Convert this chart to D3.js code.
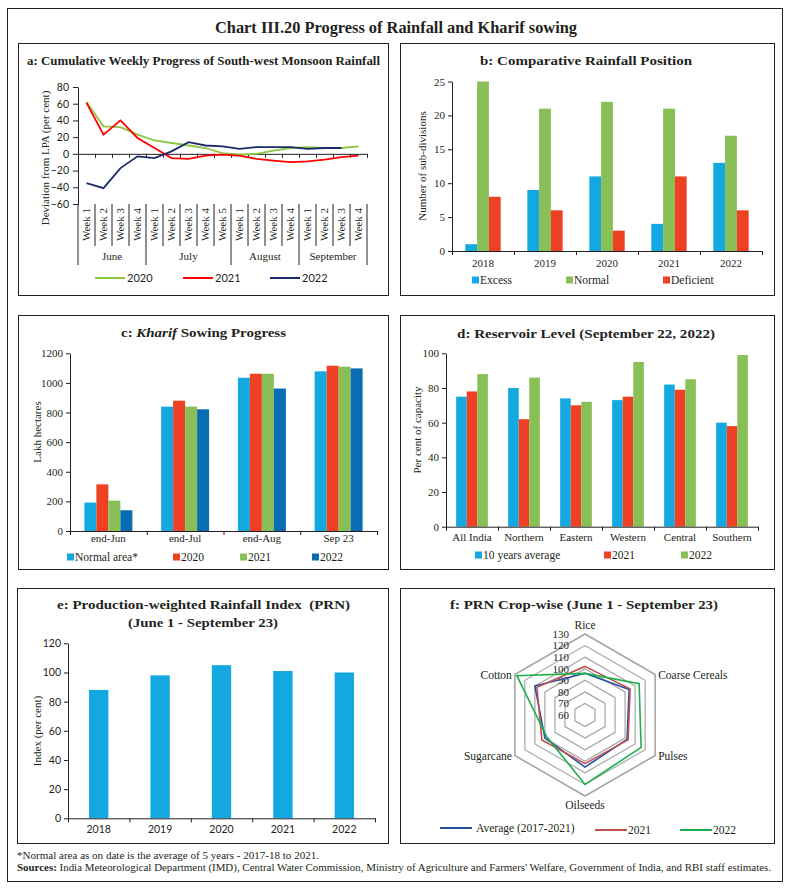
<!DOCTYPE html>
<html>
<head>
<meta charset="utf-8">
<script src="https://cdn.jsdelivr.net/npm/d3@7"></script>
<style>
  body { margin: 0; background: #fff; }
  svg text { font-family: "Liberation Serif", serif; fill: #231f20; }
  .sans { font-family: Lato, "Liberation Sans", sans-serif; }
</style>
</head>
<body>
<div id="chart"></div>
<script>
// ---- data ----
const weekLabels = ["Week 1","Week 2","Week 3","Week 4","Week 1","Week 2","Week 3","Week 4","Week 5",
  "Week 1","Week 2","Week 3","Week 4","Week 1","Week 2","Week 3","Week 4"];
const months = ["June","July","August","September"];
const monthWeeks = [4,5,4,4];
const rain2020 = [62,33,32,23,16,13,10,7,1,-1,0,4,7,8,7,7,9];
const rain2021 = [61,23,40,19,7,-5,-6,-2,-1,-2,-6,-8,-10,-9,-7,-4,-2];
const rain2022 = [-35,-41,-17,-3,-5,3,14,10,9,6,8,8,8,6,7,7,null];

const years = ["2018","2019","2020","2021","2022"];
const excess = [1,9,11,4,13];
const normal = [25,21,22,21,17];
const deficient = [8,6,3,11,6];

const sowPeriods = ["end-Jun","end-Jul","end-Aug","Sep 23"];
const sowNormal = [192,840,1035,1078];
const sow2020 = [315,880,1062,1116];
const sow2021 = [205,840,1062,1110];
const sow2022 = [140,822,962,1098];

const regions = ["All India","Northern","Eastern","Western","Central","Southern"];
const res10yr = [75,80,74,73,82,60];
const res2021 = [78,62,70,75,79,58];
const res2022 = [88,86,72,95,85,99];

const prnYears = ["2018","2019","2020","2021","2022"];
const prnIndex = [88,98,105,101,100];

const crops = ["Rice","Coarse Cereals","Pulses","Oilseeds","Sugarcane","Cotton"];
const cropAvg = [96,104,102,105,100,110];
const crop2021 = [102,105,103,102,103,108];
const crop2022 = [96,114,116,120,98,128];
const radarTicks = [60,70,80,90,100,110,120,130];

// ---- colours ----
const cBlue = "#14a8e0", cGreen = "#88c057", cRed = "#ee4124", cDark = "#0a6db4";
const ink = "#231f20";

const W = 790, H = 891;
const svg = d3.select("#chart").append("svg").attr("width", W).attr("height", H);

// outer frame + main title
svg.append("rect").attr("x", 7.5).attr("y", 8.5).attr("width", 775).attr("height", 873)
  .attr("fill", "none").attr("stroke", ink);
svg.append("text").attr("x", 396).attr("y", 33).attr("text-anchor", "middle")
  .attr("font-size", 16.5).attr("font-weight", "bold")
  .attr("textLength", 362).attr("lengthAdjust", "spacingAndGlyphs")
  .text("Chart III.20 Progress of Rainfall and Kharif sowing");

// panel frames
const frames = [[18,43,370,252],[400,43,374,252],[18,315,370,254],[400,315,374,254],[17,588,371,255],[400,588,374,255]];
frames.forEach(f => svg.append("rect").attr("x", f[0]+0.5).attr("y", f[1]+0.5)
  .attr("width", f[2]).attr("height", f[3]).attr("fill", "none").attr("stroke", ink));

function title(x, y, len, txt, italicPart) {
  const t = svg.append("text").attr("x", x).attr("y", y).attr("text-anchor", "middle")
    .attr("font-size", 13.5).attr("font-weight", "bold").attr("xml:space", "preserve")
    .attr("textLength", len).attr("lengthAdjust", "spacingAndGlyphs");
  if (italicPart) {
    t.append("tspan").text(txt[0]);
    t.append("tspan").attr("font-style", "italic").text(italicPart);
    t.append("tspan").text(txt[1]);
  } else t.text(txt);
}

function yTitle(x, y, txt) {
  svg.append("text").attr("transform", `translate(${x},${y}) rotate(-90)`)
    .attr("text-anchor", "middle").attr("dy", "0.35em").attr("font-size", 11).text(txt);
}

function styleAxis(g, size, sans) {
  g.attr("font-family", null).attr("font-size", size);
  g.selectAll("path, line").attr("stroke", ink);
  if (sans) g.selectAll("text").attr("class", "sans");
}

// ---- a: weekly rainfall ----
title(203.5, 65, 353, "a: Cumulative Weekly Progress of South-west Monsoon Rainfall");
const ax = d3.scaleLinear().domain([0, weekLabels.length]).range([78, 367]);
const ay = d3.scaleLinear().domain([-60, 80]).range([204, 87]);

svg.append("g").attr("transform", "translate(78,0)")
  .call(d3.axisLeft(ay).tickValues(d3.range(-60, 81, 20)).tickSize(5).tickSizeOuter(0).tickPadding(4))
  .call(g => styleAxis(g, 10.5, true));
svg.append("g").attr("transform", `translate(0,${ay(0)})`)
  .call(d3.axisBottom(ax).tickValues(d3.range(0, weekLabels.length + 1)).tickFormat("").tickSize(4).tickSizeOuter(0))
  .call(g => styleAxis(g, 10, false));

// category separators below the plot
const monthEdges = [0];
monthWeeks.forEach(n => monthEdges.push(monthEdges[monthEdges.length - 1] + n));
svg.append("g").selectAll("line").data(d3.range(0, weekLabels.length + 1)).join("line")
  .attr("x1", d => ax(d)).attr("x2", d => ax(d)).attr("y1", ay(-60))
  .attr("y2", d => monthEdges.includes(d) ? 265 : 246)
  .attr("stroke", ink);
svg.append("g").selectAll("text").data(weekLabels).join("text")
  .attr("transform", (d, i) => `translate(${ax(i + 0.5)},208) rotate(-90)`)
  .attr("text-anchor", "end").attr("dy", "0.35em").attr("font-size", 11).text(d => d);
svg.append("g").selectAll("text").data(months).join("text")
  .attr("x", (d, i) => (ax(monthEdges[i]) + ax(monthEdges[i + 1])) / 2).attr("y", 260)
  .attr("text-anchor", "middle").attr("font-size", 11).text(d => d);
yTitle(45, 158, "Deviation from LPA (per cent)");

const rainLine = d3.line().defined(d => d != null).x((d, i) => ax(i + 0.5)).y(d => ay(d));
const rainSeries = [{name: "2020", values: rain2020, color: "#8dc63f"},
                    {name: "2021", values: rain2021, color: "#ff0000"},
                    {name: "2022", values: rain2022, color: "#1b2a6b"}];
rainSeries.forEach(s => svg.append("path").datum(s.values).attr("d", rainLine)
  .attr("fill", "none").attr("stroke", s.color).attr("stroke-width", 1.8));
const aLegX = [95, 183, 270];
rainSeries.forEach((s, i) => {
  svg.append("line").attr("x1", aLegX[i]).attr("x2", aLegX[i] + 30).attr("y1", 278).attr("y2", 278)
    .attr("stroke", s.color).attr("stroke-width", 2);
  svg.append("text").attr("class", "sans").attr("x", aLegX[i] + 32).attr("y", 278).attr("dy", "0.35em")
    .attr("font-size", 11).text(s.name);
});

// ---- grouped bar helper ----
function groupedBars(o) {
  const x0 = d3.scaleBand().domain(o.cats).range([o.left, o.right]).paddingInner(o.pad).paddingOuter(o.pad / 2);
  const x1 = d3.scaleBand().domain(o.series.map(s => s.name)).range([0, x0.bandwidth()]);
  const y = d3.scaleLinear().domain(o.yDomain).range([o.bottom, o.top]);

  o.series.forEach(s => {
    svg.append("g").selectAll("rect").data(o.cats).join("rect")
      .attr("x", c => x0(c) + x1(s.name))
      .attr("y", (c, i) => y(s.values[i]))
      .attr("width", x1.bandwidth())
      .attr("height", (c, i) => y(0) - y(s.values[i]))
      .attr("fill", s.color);
  });

  svg.append("g").attr("transform", `translate(${o.left},0)`)
    .call(d3.axisLeft(y).tickValues(o.yTicks).tickFormat(d3.format("d")).tickSize(4).tickSizeOuter(0).tickPadding(3))
    .call(g => styleAxis(g, o.tickSize || 11, o.sans));
  const xb = d3.scaleLinear().domain([0, o.cats.length]).range([o.left, o.right]);
  svg.append("g").attr("transform", `translate(0,${y(0)})`)
    .call(d3.axisBottom(xb).tickValues(d3.range(0, o.cats.length + 1)).tickFormat("").tickSize(4).tickSizeOuter(0))
    .call(g => styleAxis(g, 11, false));
  svg.append("g").selectAll("text").data(o.cats).join("text")
    .attr("class", o.sans ? "sans" : null)
    .attr("x", c => x0(c) + x0.bandwidth() / 2).attr("y", o.labelY)
    .attr("text-anchor", "middle").attr("font-size", o.tickSize || 11).text(c => c);

  if (o.legendX) {
    o.series.forEach((s, i) => {
      svg.append("rect").attr("x", o.legendX[i]).attr("y", o.legendY - 3.5).attr("width", 7).attr("height", 7)
        .attr("fill", s.color);
      svg.append("text").attr("x", o.legendX[i] + 8).attr("y", o.legendY).attr("dy", "0.35em")
        .attr("font-size", 11.5).text(s.name);
    });
  }
}

// ---- b: comparative rainfall ----
title(586, 65, 212, "b: Comparative Rainfall Position");
groupedBars({
  cats: years, left: 452, right: 762, top: 81.5, bottom: 251, pad: 0.43,
  yDomain: [0, 25], yTicks: d3.range(0, 26, 5), labelY: 267,
  series: [{name: "Excess", values: excess, color: cBlue},
           {name: "Normal", values: normal, color: cGreen},
           {name: "Deficient", values: deficient, color: cRed}],
  legendX: [472, 566, 663], legendY: 280
});
yTitle(422, 166, "Number of sub-divisions");

// ---- c: kharif sowing ----
title(203.5, 337, 165, ["c: ", " Sowing Progress"], "Kharif");
groupedBars({
  cats: sowPeriods, left: 70, right: 377, top: 353.3, bottom: 531, pad: 0.375,
  yDomain: [0, 1200], yTicks: d3.range(0, 1201, 200), labelY: 542,
  series: [{name: "Normal area*", values: sowNormal, color: cBlue},
           {name: "2020", values: sow2020, color: cRed},
           {name: "2021", values: sow2021, color: cGreen},
           {name: "2022", values: sow2022, color: cDark}],
  legendX: [67, 173, 240, 312], legendY: 557
});
yTitle(37, 432, "Lakh hectares");

// ---- d: reservoir ----
title(586, 338, 258, "d: Reservoir Level (September 22, 2022)");
groupedBars({
  cats: regions, left: 446, right: 758, top: 353.3, bottom: 526.7, pad: 0.39,
  yDomain: [0, 100], yTicks: d3.range(0, 101, 20), labelY: 541,
  series: [{name: "10 years average", values: res10yr, color: cBlue},
           {name: "2021", values: res2021, color: cRed},
           {name: "2022", values: res2022, color: cGreen}],
  legendX: [475, 604, 681], legendY: 555
});
yTitle(417, 430, "Per cent of capacity");

// ---- e: PRN index ----
title(203.5, 609, 293, "e: Production-weighted Rainfall Index\u00a0 (PRN)");
title(203, 627, 150, "(June 1 - September 23)");
groupedBars({
  cats: prnYears, left: 68, right: 375, top: 643.3, bottom: 818.3, pad: 0.685,
  yDomain: [0, 120], yTicks: d3.range(0, 121, 20), labelY: 833, sans: true, tickSize: 10.5,
  series: [{name: "PRN", values: prnIndex, color: cBlue}]
});
yTitle(37, 731, "Index (per cent)");

// ---- f: radar ----
title(584, 609, 268, "f: PRN Crop-wise (June 1 - September 23)");
const cx = 585, cy = 715;
const rr = d3.scaleLinear().domain([60, 130]).range([0, 81]);
const step = 2 * Math.PI / crops.length;
const radar = d3.lineRadial().angle((d, i) => i * step).radius(d => rr(d)).curve(d3.curveLinearClosed);
const fg = svg.append("g").attr("transform", `translate(${cx},${cy})`);
fg.selectAll("path.ring").data(radarTicks.slice(1)).join("path").attr("class", "ring")
  .attr("d", v => radar(crops.map(() => v)))
  .attr("fill", "none").attr("stroke", "#a6a6a6").attr("stroke-width", v => v === 130 ? 1.6 : 1.2);
fg.selectAll("text.tick").data(radarTicks).join("text").attr("class", "tick")
  .attr("x", -16).attr("y", v => -rr(v)).attr("dy", "0.35em").attr("text-anchor", "end")
  .attr("font-size", 11).text(v => v);
const cropSeries = [{name: "Average (2017-2021)", values: cropAvg, color: "#2350a0"},
                    {name: "2021", values: crop2021, color: "#c0504d"},
                    {name: "2022", values: crop2022, color: "#1db04b"}];
cropSeries.forEach(s => fg.append("path").attr("d", radar(s.values))
  .attr("fill", "none").attr("stroke", s.color).attr("stroke-width", 1.6));
const rOut = rr(130);
fg.selectAll("text.cat").data(crops).join("text").attr("class", "cat")
  .attr("x", (d, i) => {
    const a = i * step - Math.PI / 2, px = rOut * Math.cos(a);
    return Math.abs(px) < 1 ? 0 : px + (px > 0 ? 3 : -3);
  })
  .attr("y", (d, i) => {
    const a = i * step - Math.PI / 2, py = rOut * Math.sin(a);
    if (i === 0) return py - 5;
    if (i === 3) return py + 13;
    return py;
  })
  .attr("dy", (d, i) => (i === 0 || i === 3) ? 0 : "0.35em")
  .attr("text-anchor", (d, i) => (i === 0 || i === 3) ? "middle" : (i < 3 ? "start" : "end"))
  .attr("font-size", 11.5).text(d => d);
const fLegX = [440, 595, 680], fLegY = [828, 830, 830];
cropSeries.forEach((s, i) => {
  svg.append("line").attr("x1", fLegX[i]).attr("x2", fLegX[i] + 32).attr("y1", fLegY[i]).attr("y2", fLegY[i])
    .attr("stroke", s.color).attr("stroke-width", 2);
  svg.append("text").attr("x", fLegX[i] + 36 - (i ? 3 : 0)).attr("y", fLegY[i]).attr("dy", "0.35em")
    .attr("font-size", 11.5).text(s.name);
});

// ---- footer ----
svg.append("text").attr("x", 17).attr("y", 859).attr("font-size", 10.5)
  .attr("textLength", 302).attr("lengthAdjust", "spacingAndGlyphs")
  .text("*Normal area as on date is the average of 5 years - 2017-18 to 2021.");
const src = svg.append("text").attr("x", 17).attr("y", 871).attr("font-size", 10.5)
  .attr("textLength", 754).attr("lengthAdjust", "spacingAndGlyphs");
src.append("tspan").attr("font-weight", "bold").text("Sources:");
src.append("tspan").text(" India Meteorological Department (IMD), Central Water Commission, Ministry of Agriculture and Farmers' Welfare, Government of India, and RBI staff estimates.");
</script>
</body>
</html>
